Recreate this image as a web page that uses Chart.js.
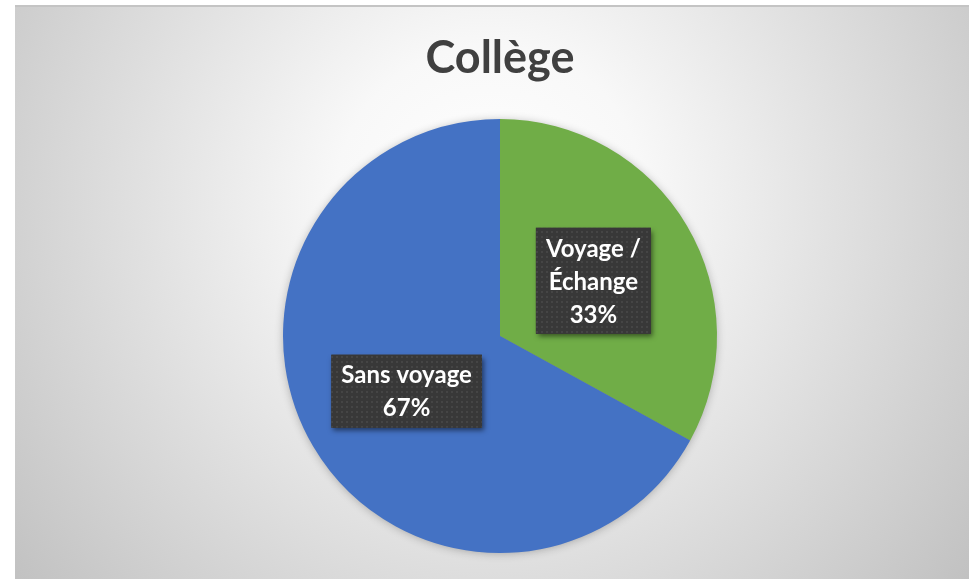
<!DOCTYPE html>
<html>
<head>
<meta charset="utf-8">
<script src="https://cdn.jsdelivr.net/npm/chart.js@4"></script>
<style>
  html, body { margin: 0; padding: 0; background: #ffffff; }
  #wrap { width: 969px; height: 579px; }
</style>
</head>
<body>
<div id="wrap"><canvas id="c" width="969" height="579"></canvas></div>
<script>
const titleText = 'Collège';
const categories = ['Voyage / Échange', 'Sans voyage'];
const labelLines = [['Voyage /', 'Échange'], ['Sans voyage']];
const values = [33, 67];
const colors = ['#70AD47', '#4472C4'];

const bgPlugin = {
  id: 'bg',
  beforeDraw(chart) {
    const ctx = chart.ctx;
    const W = chart.width, H = chart.height;
    ctx.save();
    ctx.fillStyle = '#ffffff';
    ctx.fillRect(0, 0, W, H);
    const g = ctx.createRadialGradient(490, 200, 0, 490, 200, 620);
    g.addColorStop(0, '#ffffff');
    g.addColorStop(0.25, '#f8f8f8');
    g.addColorStop(1, '#c0c0c0');
    ctx.fillStyle = g;
    ctx.fillRect(15, 5, W - 15, H - 5);
    ctx.strokeStyle = '#c4c4c4';
    ctx.lineWidth = 2;
    ctx.beginPath();
    ctx.moveTo(15, 6);
    ctx.lineTo(W, 6);
    ctx.stroke();
    ctx.restore();
  },
  beforeDatasetsDraw(chart) {
    const meta = chart.getDatasetMeta(0);
    const arc = meta.data[0];
    if (!arc) return;
    const ctx = chart.ctx;
    ctx.save();
    ctx.shadowColor = 'rgba(0,0,0,0.3)';
    ctx.shadowBlur = 10;
    ctx.shadowOffsetY = 1;
    ctx.fillStyle = '#888888';
    ctx.beginPath();
    ctx.arc(arc.x, arc.y, arc.outerRadius - 1, 0, Math.PI * 2);
    ctx.fill();
    ctx.restore();
  }
};

function makePattern(ctx) {
  const t = document.createElement('canvas');
  t.width = 5; t.height = 5;
  const c = t.getContext('2d');
  c.fillStyle = '#383838';
  c.fillRect(0, 0, 5, 5);
  c.fillStyle = '#454545';
  c.fillRect(1, 1, 2, 2);
  return ctx.createPattern(t, 'repeat');
}

const labelPlugin = {
  id: 'boxLabels',
  afterDatasetsDraw(chart) {
    const ctx = chart.ctx;
    const meta = chart.getDatasetMeta(0);
    const data = chart.data.datasets[0].data;
    const total = data.reduce((a, b) => a + b, 0);
    const pattern = makePattern(ctx);
    const lineH = 33;
    ctx.save();
    ctx.font = 'bold 24px Lato';
    meta.data.forEach((arc, i) => {
      const pos = arc.tooltipPosition();
      const lines = labelLines[i].concat([Math.round(data[i] / total * 100) + '%']);
      const tw = Math.max(...lines.map(l => ctx.measureText(l).width));
      const w = tw + 20;
      const h = lines.length * lineH + 7;
      const x0 = pos.x - w / 2, y0 = pos.y - h / 2;
      ctx.save();
      ctx.shadowColor = 'rgba(0,0,0,0.5)';
      ctx.shadowBlur = 5;
      ctx.shadowOffsetX = 2;
      ctx.shadowOffsetY = 3;
      ctx.fillStyle = '#383838';
      ctx.fillRect(x0, y0, w, h);
      ctx.restore();
      ctx.fillStyle = pattern;
      ctx.fillRect(x0, y0, w, h);
      ctx.fillStyle = '#ffffff';
      ctx.textAlign = 'center';
      ctx.textBaseline = 'middle';
      lines.forEach((l, k) => {
        ctx.fillText(l, pos.x, y0 + 3.5 + lineH * k + lineH / 2 + 1);
      });
    });
    ctx.restore();
  }
};

new Chart(document.getElementById('c'), {
  type: 'pie',
  data: {
    labels: categories,
    datasets: [{
      data: values,
      backgroundColor: colors,
      borderWidth: 0,
      hoverOffset: 0
    }]
  },
  options: {
    responsive: false,
    animation: false,
    layout: { padding: { top: 0, bottom: 26, left: 31, right: 0 } },
    plugins: {
      legend: { display: false },
      tooltip: { enabled: false },
      title: {
        display: true,
        text: titleText,
        color: '#404040',
        font: { family: 'Lato', size: 45, weight: 'bold', lineHeight: 1.2 },
        padding: { top: 31, bottom: 34 }
      }
    }
  },
  plugins: [bgPlugin, labelPlugin]
});
</script>
</body>
</html>
